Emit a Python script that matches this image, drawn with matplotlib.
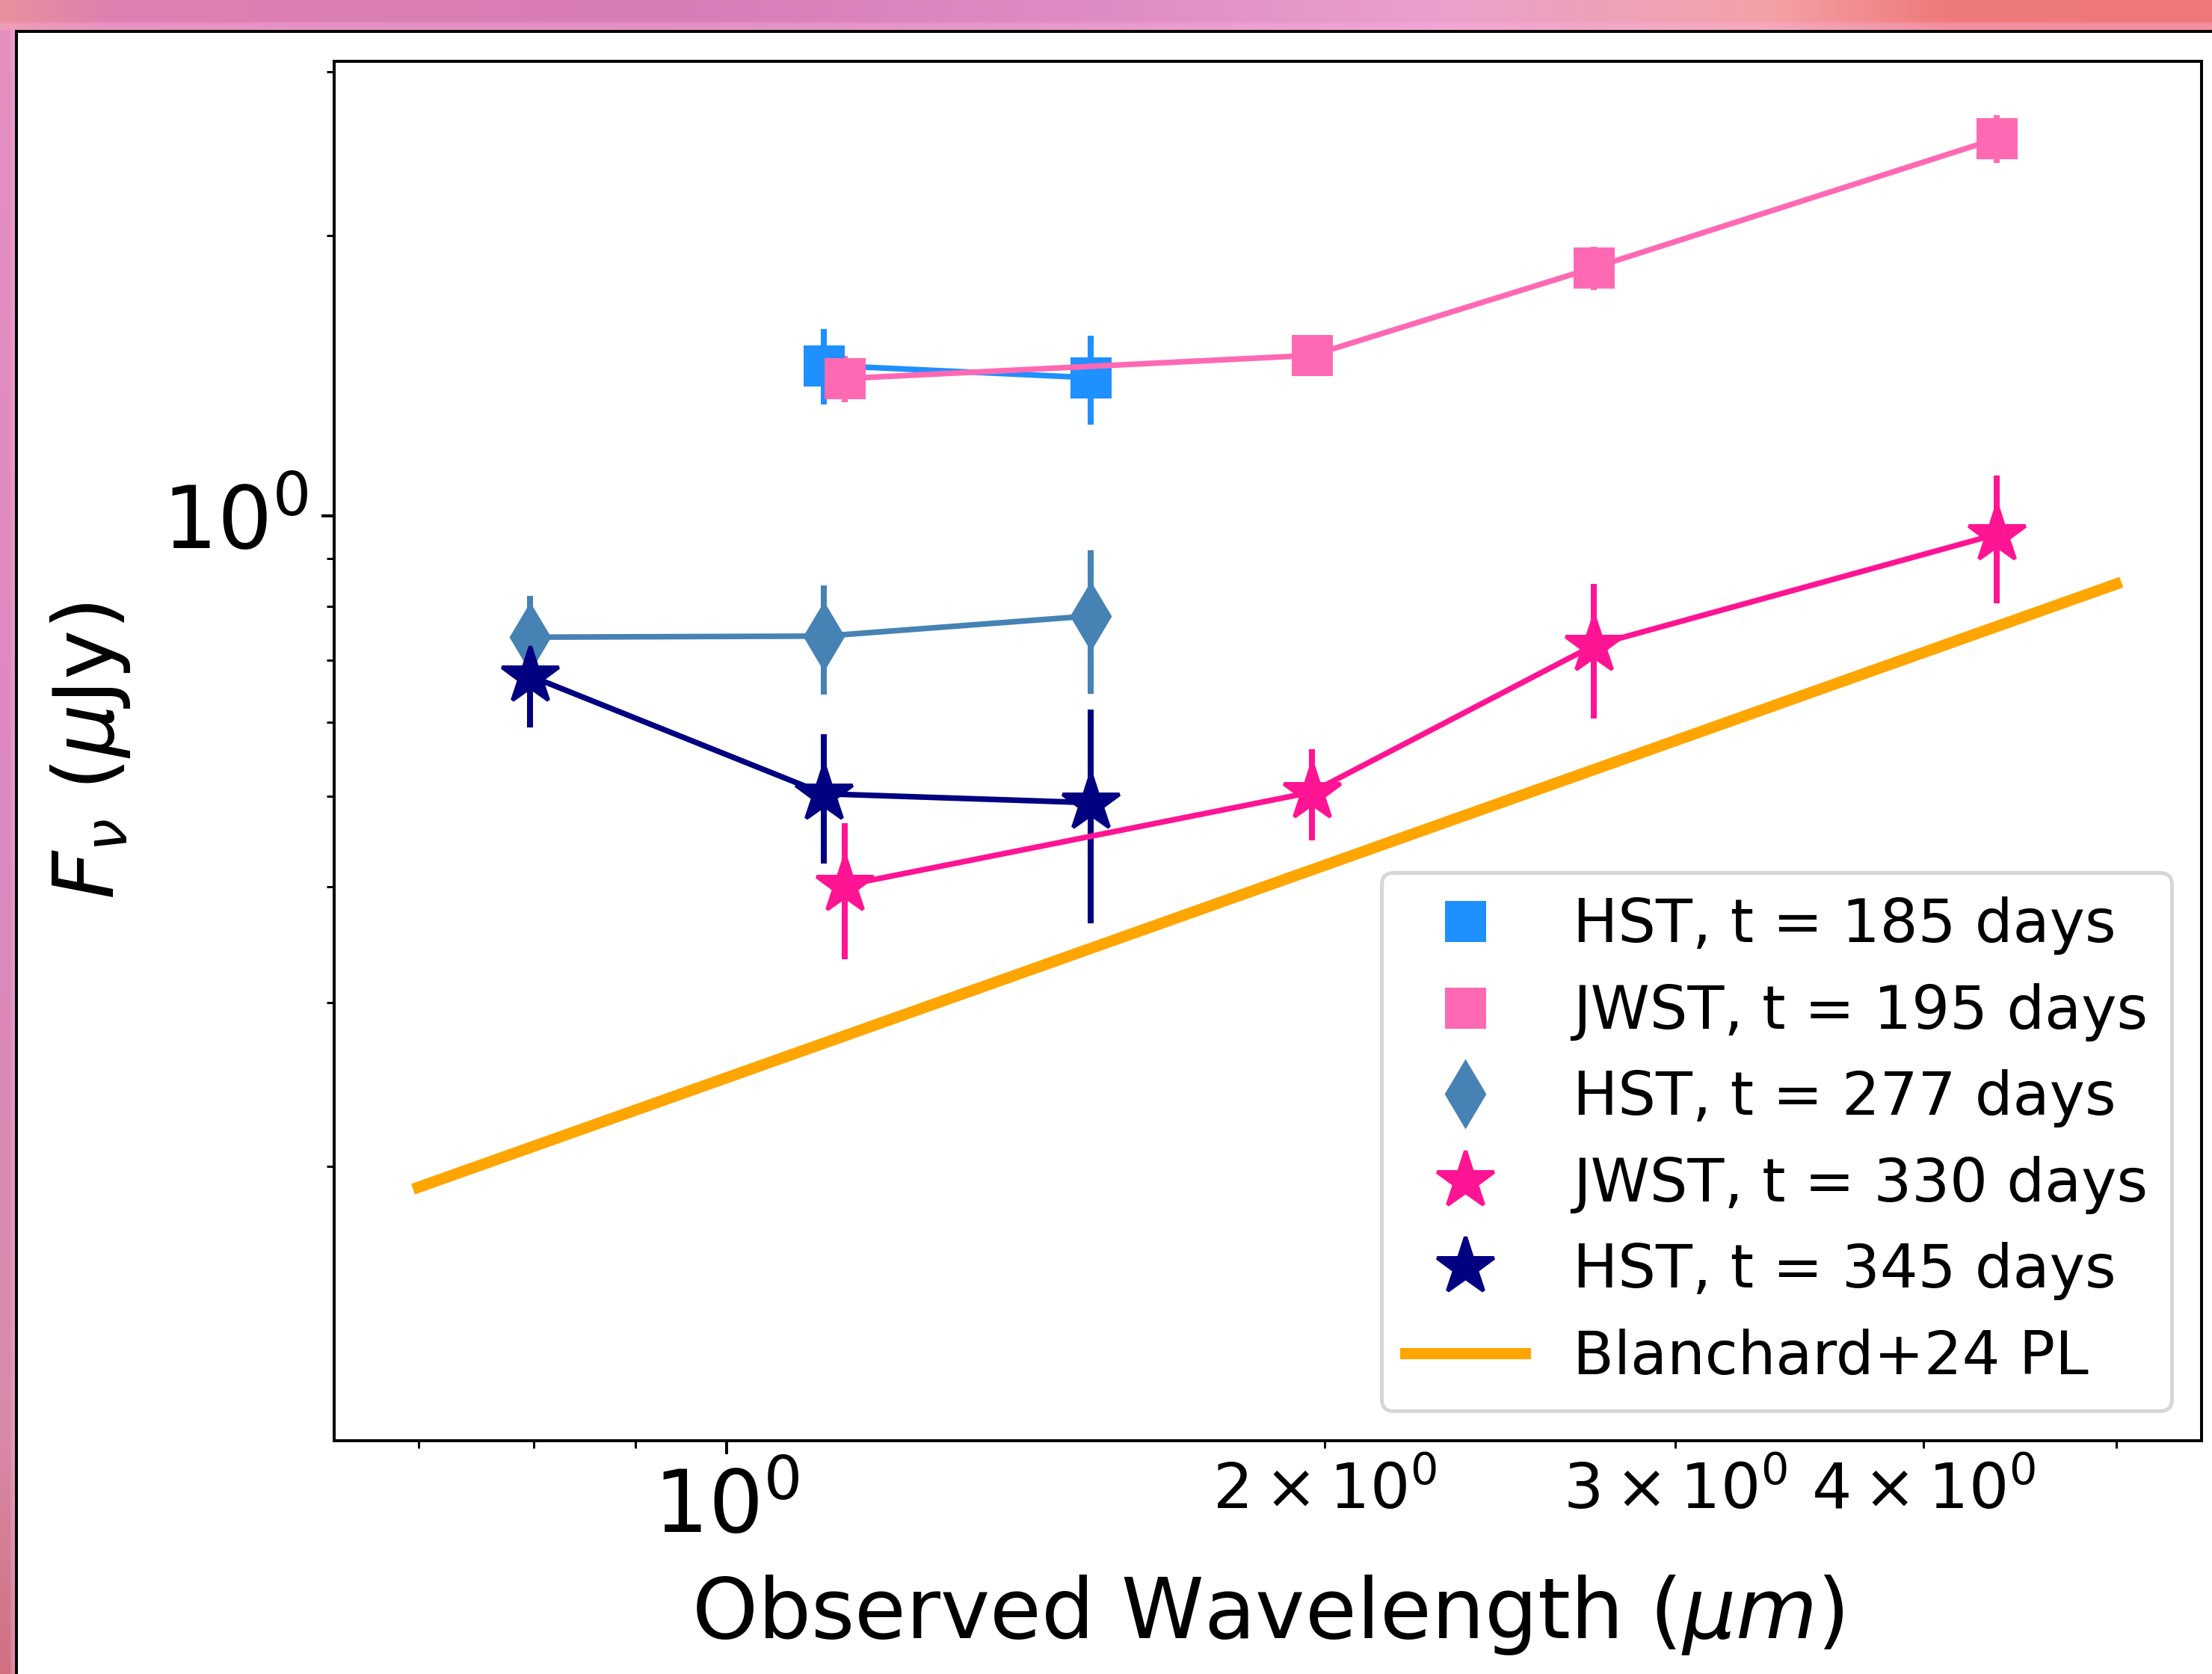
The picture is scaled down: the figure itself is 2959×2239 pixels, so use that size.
import numpy as np
import matplotlib
matplotlib.use('Agg')
import matplotlib.pyplot as plt
from matplotlib.lines import Line2D
from matplotlib.patches import Rectangle
from matplotlib.colors import to_rgb

# ---------------- data ----------------
hst185_wave = [1.12, 1.525]
hst185_flux = [1.452, 1.408]
hst185_err = [0.135, 0.155]

jwst195_wave = [1.147, 1.97, 2.73, 4.355]
jwst195_flux = [1.405, 1.488, 1.848, 2.544]
jwst195_err = [0.08, 0.06, 0.10, 0.15]

hst277_wave = [0.797, 1.12, 1.525]
hst277_flux = [0.741, 0.743, 0.781]
hst277_err = [0.08, 0.10, 0.137]

jwst330_wave = [1.147, 1.97, 2.73, 4.355]
jwst330_flux = [0.401, 0.505, 0.726, 0.956]
jwst330_err = [0.067, 0.057, 0.12, 0.15]

hst345_wave = [0.797, 1.12, 1.525]
hst345_flux = [0.673, 0.503, 0.492]
hst345_err = [0.08, 0.08, 0.127]

pl_wave = [0.70, 5.0]
pl_flux = [0.19, 0.845]

series_labels = ['HST, t = 185 days', 'JWST, t = 195 days', 'HST, t = 277 days',
                 'JWST, t = 330 days', 'HST, t = 345 days']
pl_label = 'Blanchard+24 PL'

# ---------------- figure ----------------
W, H, DPI = 2959, 2239, 360
fig = plt.figure(figsize=(W / DPI, H / DPI), dpi=DPI)
fig.patch.set_facecolor('white')

def grad(stops, n):
    pos = np.array([s[0] for s in stops])
    cols = np.array([to_rgb(s[1]) for s in stops])
    t = np.linspace(0, 1, n)
    return np.stack([np.interp(t, pos, cols[:, k]) for k in range(3)], axis=-1)

# screenshot-like pink border (top strip and left strip)
top_stops = [(0.0, '#e9909e'), (0.05, '#de80b0'), (0.3, '#d87cb6'), (0.5, '#e08cc4'),
             (0.65, '#eaa0cc'), (0.8, '#f4a2a8'), (0.88, '#ef7a7a'), (1.0, '#ee7878')]
row = grad(top_stops, 400)
top_img = np.stack([row] * 8, axis=0)
top_img[-2:] = top_img[-2:] * 0.6 + 0.4 * np.array(to_rgb('#f7b0dc'))
axt = fig.add_axes([0, 1 - 40 / H, 1, 40 / H])
axt.imshow(top_img, aspect='auto', interpolation='bilinear')
axt.set_axis_off()

left_stops = [(0.0, '#e58fc0'), (0.5, '#dc88c0'), (0.85, '#d98aa8'), (1.0, '#d07080')]
col = grad(left_stops, 400)
left_img = np.stack([col] * 6, axis=1)
left_img[:, -2:] = left_img[:, -2:] * 0.6 + 0.4 * np.array(to_rgb('#f7b0dc'))
axl = fig.add_axes([0, 0, 22 / W, 1 - 40 / H])
axl.imshow(left_img, aspect='auto', interpolation='bilinear')
axl.set_axis_off()

fig.add_artist(Rectangle((22 / W, -0.01), 1.0, 1 - 42 / H + 0.01, transform=fig.transFigure,
                         facecolor='white', edgecolor='black', lw=0.8, zorder=0.5))

ax = fig.add_axes([447 / W, 1 - 1927 / H, (2945 - 447) / W, (1927 - 82) / H])
ax.set_zorder(2)

styles = [
    (hst185_wave, hst185_flux, hst185_err, 'dodgerblue', 's', 10),
    (jwst195_wave, jwst195_flux, jwst195_err, 'hotpink', 's', 10),
    (hst277_wave, hst277_flux, hst277_err, 'steelblue', 'd', 12),
    (jwst330_wave, jwst330_flux, jwst330_err, 'deeppink', '*', 16),
    (hst345_wave, hst345_flux, hst345_err, 'navy', '*', 16),
]
handles = []
for (w, f, e, c, m, ms), lab in zip(styles, series_labels):
    ax.errorbar(w, f, yerr=e, fmt='-' + m, color=c, ms=ms, lw=1.5, elinewidth=1.6, capsize=0)
    handles.append(Line2D([], [], ls='none', marker=m, color=c, ms=ms))

ax.plot(pl_wave, pl_flux, color='orange', lw=3)
handles.append(Line2D([], [], color='orange', lw=3))

ax.set_xscale('log')
ax.set_yscale('log')
ax.set_xlim(0.635, 5.52)
ax.set_ylim(0.1015, 3.08)

ax.tick_params(which='major', labelsize=23)
ax.tick_params(which='minor', labelsize=16.8)
ax.set_xlabel(r'Observed Wavelength ($\mu m$)', fontsize=22.4, labelpad=6)
ax.set_ylabel(r'$F_\nu$ ($\mu$Jy)', fontsize=22.4, labelpad=8)

ax.legend(handles, series_labels + [pl_label], loc='lower right', fontsize=16,
          labelspacing=0.47)

fig.savefig('out.png', dpi=DPI)
